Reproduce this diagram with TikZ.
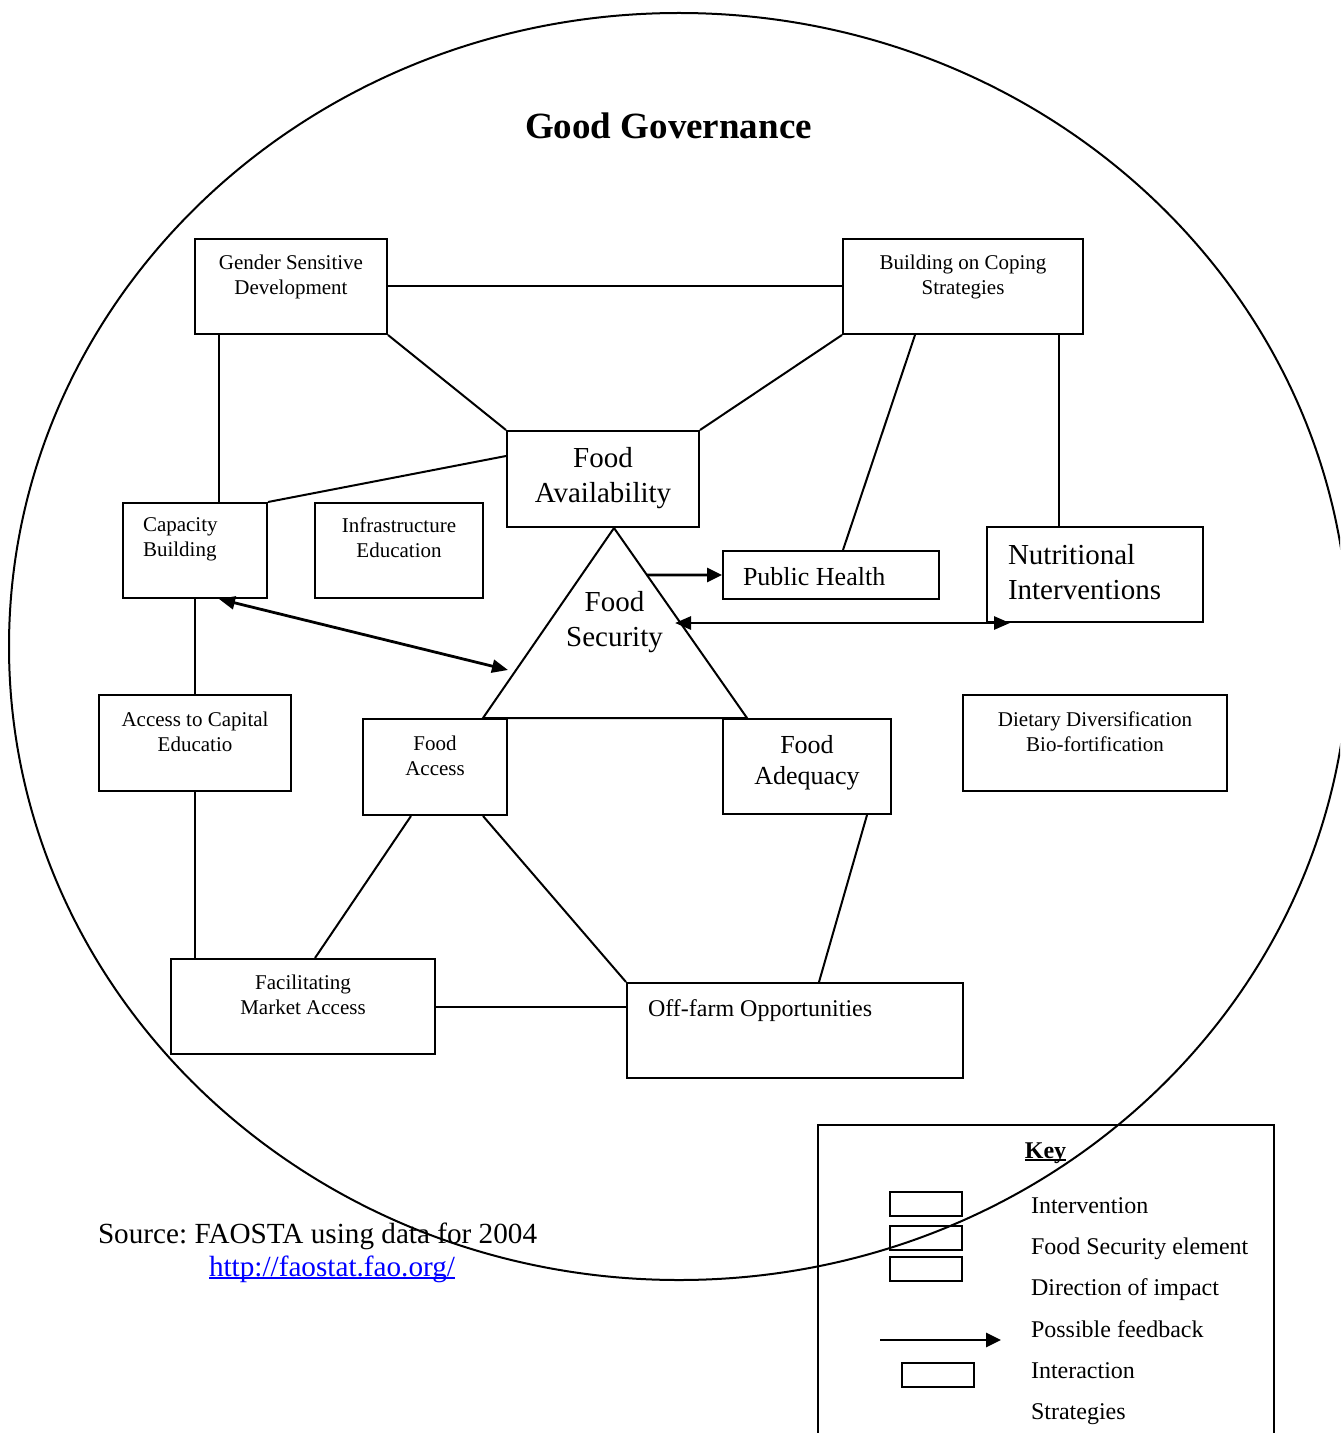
\documentclass[tikz,border=0pt]{standalone}
\usepackage{fontspec}
\setmainfont{Liberation Serif}
\usepackage{xcolor}
\usetikzlibrary{positioning,calc,arrows.meta}

\definecolor{linkblue}{RGB}{0,0,255}
\frenchspacing
\newcommand\smallfnt{\fontsize{10.5}{12.5}\selectfont}
\newcommand\midfnt{\fontsize{13}{15.5}\selectfont}
\newcommand\largefnt{\fontsize{14.5}{17.5}\selectfont}
\newcommand\keyfnt{\fontsize{12}{14}\selectfont}
\newcommand\srcfnt{\fontsize{14.6}{17}\selectfont}
\newcommand\titlefnt{\fontsize{18.5}{22}\selectfont\bfseries}
\newcommand\undl[1]{\setbox0\hbox{#1}\rlap{\rule[-1.4pt]{\wd0}{0.7pt}}\box0}

\begin{document}
\begin{tikzpicture}[x=0.5pt, y=-0.5pt, line width=1pt,
    box/.style={draw, inner sep=0pt},
    txt/.style={inner sep=0pt, align=center},
    ltxt/.style={inner sep=0pt, align=left},
    feedback/.style={line width=1.4pt, -{Triangle[length=7.5pt, width=7pt]}},
    twoway/.style={line width=1.4pt, {Triangle[length=8pt, width=6.5pt]}-{Triangle[length=8pt, width=6.5pt]}}]
    \useasboundingbox (0,0) rectangle (1340,1433);
    \clip (0,0) rectangle (1340,1433);

    % Governance circle
    \draw (679,646.5) ellipse [x radius=670, y radius=633.5];
    \node[font=\titlefnt, anchor=base, inner sep=0pt] (title) at (668.5,139) {Good Governance};

    % Strategies
    \node[box, minimum width=96pt, minimum height=47.5pt] (gsd) at (291,286.5) {};
    \node[txt, font=\smallfnt, below=7.8pt of gsd.north] (gsdtxt) {Gender Sensitive\\Development};
    \node[box, minimum width=120pt, minimum height=47.5pt] (bcs) at (963,286.5) {};
    \node[txt, font=\smallfnt, below=7.8pt of bcs.north] (bcstxt) {Building on Coping\\Strategies};

    % Interventions
    \node[box, minimum width=72pt, minimum height=47.5pt] (capb) at (195,550.5) {};
    \node[ltxt, font=\smallfnt, below right=7.3pt and 10pt of capb.north west] (capbtxt) {Capacity\\Building};
    \node[box, minimum width=84pt, minimum height=47.5pt] (infra) at (399,550.5) {};
    \node[txt, font=\smallfnt, below=7.3pt of infra.north] (infratxt) {Infrastructure\\Education};
    \node[box, minimum width=96pt, minimum height=48pt] (acc) at (195,743) {};
    \node[txt, font=\smallfnt, below=8.6pt of acc.north] (acctxt) {Access to Capital\\Educatio};
    \node[box, minimum width=132pt, minimum height=48pt] (diet) at (1095,743) {};
    \node[txt, font=\smallfnt, below=8.6pt of diet.north] (diettxt) {Dietary Diversification\\Bio-fortification};
    \node[box, minimum width=132pt, minimum height=47.5pt] (fma) at (303,1006.5) {};
    \node[txt, font=\smallfnt, below=8pt of fma.north] (fmatxt) {Facilitating\\Market Access};
    \node[box, minimum width=168pt, minimum height=47.5pt] (offfarm) at (795,1030.5) {};
    \node[ltxt, font=\keyfnt, below right=8.3pt and 10.5pt of offfarm.north west] (offfarmtxt) {Off-farm Opportunities};
    \node[box, minimum width=108pt, minimum height=24pt] (phealth) at (831,575) {};
    \node[ltxt, font=\midfnt, below right=8.3pt and 10pt of phealth.north west] (phealthtxt) {Public Health};
    \node[box, minimum width=108pt, minimum height=47.5pt] (nutri) at (1095,574.5) {};
    \node[ltxt, font=\largefnt, below right=8.8pt and 10.5pt of nutri.north west] (nutritxt) {Nutritional\\Interventions};

    % Food security elements
    \node[box, minimum width=96pt, minimum height=48pt] (favail) at (603,479) {};
    \node[txt, font=\largefnt, below=8.3pt of favail.north] (favailtxt) {Food\\Availability};
    \node[box, minimum width=72pt, minimum height=48pt] (faccess) at (435,767) {};
    \node[txt, font=\smallfnt, below=8.3pt of faccess.north] (faccesstxt) {Food\\Access};
    \node[box, minimum width=84pt, minimum height=47.5pt] (fadeq) at (807,766.5) {};
    \node[txt, font=\midfnt, below=8.3pt of fadeq.north] (fadeqtxt) {Food\\Adequacy};

    % Triangle
    \coordinate (tA) at (614,528);
    \coordinate (tL) at (483,718);
    \coordinate (tR) at (747,718);
    \draw (tA) -- (tL) -- (tR) -- cycle;
    \node[txt, font=\largefnt, anchor=north] (fsec) at (614.5,590.5) {Food\\Security};

    % Links
    \draw (gsd.east) -- (gsd.east -| bcs.west);
    \draw (gsd.south east) -- (favail.north west);
    \draw (bcs.south west) -- (favail.north east);
    \draw ([xshift=12pt]capb.north) -- ([xshift=12pt]capb.north |- gsd.south);
    \draw (capb.north east) -- ([yshift=11.5pt]favail.west);
    \draw ([xshift=-24pt]bcs.south) -- ([xshift=6pt]phealth.north);
    \draw ([xshift=-18pt]nutri.north) -- ([xshift=-18pt]nutri.north |- bcs.south);
    \draw (capb.south) -- (acc.north);
    \draw (acc.south) -- (acc.south |- fma.north);
    \draw ([xshift=-12pt]faccess.south) -- ([xshift=6pt]fma.north);
    \draw ([xshift=24pt]faccess.south) -- (offfarm.north west);
    \draw ([xshift=30pt]fadeq.south) -- ([xshift=12pt]offfarm.north);
    \draw (fma.east) -- (fma.east -| offfarm.west);

    % Feedback arrows
    \coordinate (fsPH) at ($(tA)!0.247!(tR)$);
    \coordinate (fsR) at (675,623);
    \coordinate (fsL) at (508,670);
    \draw[feedback] (fsPH) -- (phealth.west);
    \draw[twoway] (fsR) -- ([xshift=12pt]nutri.south west);
    \draw[twoway] ([xshift=12pt]capb.south) -- (fsL);

    % Source
    \node[anchor=base west, inner sep=0pt, font=\srcfnt] (src) at (97,1243) {Source: FAOSTA using data for 2004};
    \node[anchor=base west, inner sep=0pt, font=\srcfnt, text=linkblue] (srcurl) at (208,1276) {\undl{http://faostat.fao.org/}};

    % Key
    \node[box, anchor=north west, minimum width=228pt, minimum height=160pt] (keybox) at (817,1124) {};
    \node[font=\keyfnt\bfseries, anchor=base, inner sep=0pt] (keyttl) at (1045.5,1158) {\undl{Key}};
    \node[box, minimum width=36pt, minimum height=12pt] (keyA) at (925.5,1204) {};
    \node[box, minimum width=36pt, minimum height=12pt] (keyB) at (925.5,1238) {};
    \node[box, minimum width=36pt, minimum height=12pt] (keyC) at (925.5,1268.5) {};
    \node[box, minimum width=36pt, minimum height=12pt] (keyD) at (938,1375) {};
    \coordinate (keyfA) at (880,1340);
    \coordinate (keyfB) at (1001,1340);
    \draw[feedback] (keyfA) -- (keyfB);
    \node[anchor=base west, inner sep=0pt, font=\keyfnt] (key1) at (1030,1213) {Intervention};
    \node[anchor=base west, inner sep=0pt, font=\keyfnt] (key2) at (1030,1254) {Food Security element};
    \node[anchor=base west, inner sep=0pt, font=\keyfnt] (key3) at (1030,1295) {Direction of impact};
    \node[anchor=base west, inner sep=0pt, font=\keyfnt] (key4) at (1030,1337) {Possible feedback};
    \node[anchor=base west, inner sep=0pt, font=\keyfnt] (key5) at (1030,1378) {Interaction};
    \node[anchor=base west, inner sep=0pt, font=\keyfnt] (key6) at (1030,1419) {Strategies};
\end{tikzpicture}
\end{document}
